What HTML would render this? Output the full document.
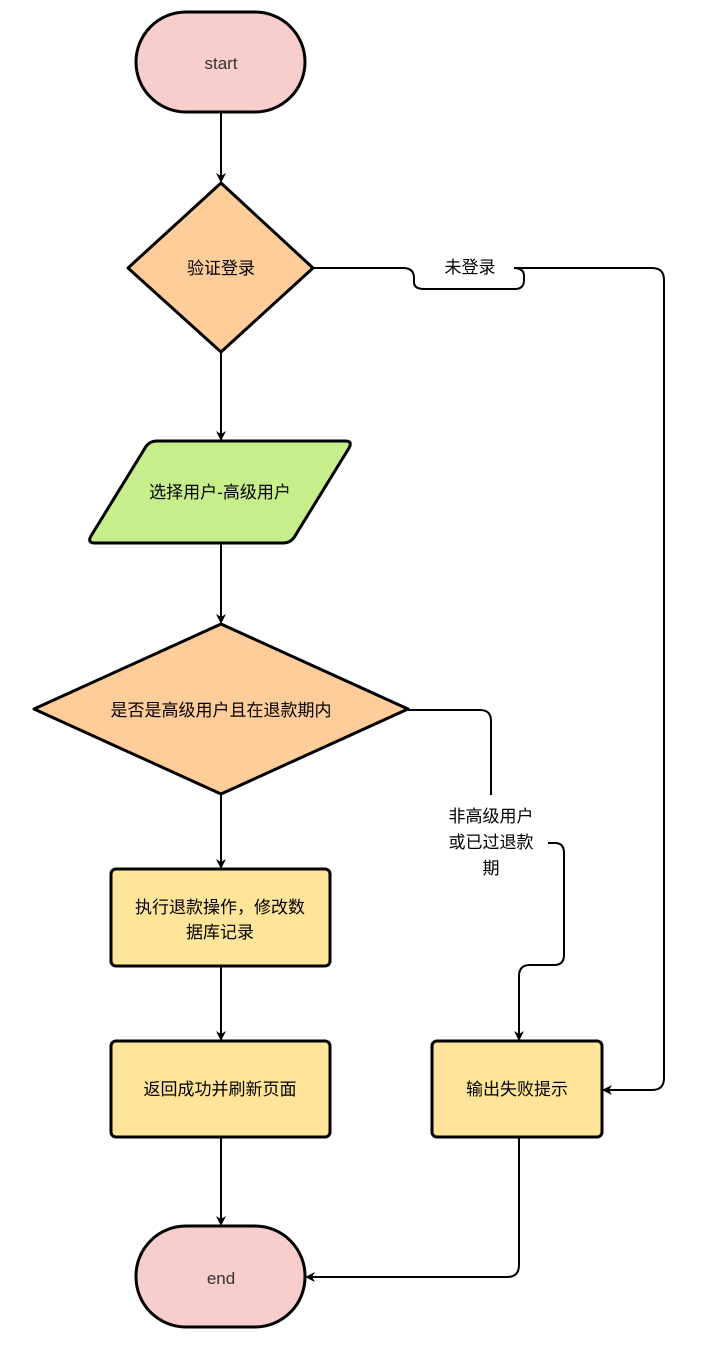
<!DOCTYPE html>
<html><head><meta charset="utf-8"><style>
html,body{margin:0;padding:0;background:#fff;}
text{font-family:"Liberation Sans","Noto Sans CJK SC",sans-serif;font-size:17px;fill:#000;}
</style></head><body>
<svg width="722" height="1358" viewBox="0 0 722 1358" xmlns="http://www.w3.org/2000/svg">
<defs><marker id="a" markerWidth="10" markerHeight="10" refX="8" refY="5" orient="auto" markerUnits="userSpaceOnUse"><path d="M0,0 L10,5 L0,10 L3,5 Z" fill="#000"/></marker></defs>
<g fill="none" stroke="#000" stroke-width="2">
<path d="M221 112 V181" marker-end="url(#a)"/>
<path d="M221 352 V439" marker-end="url(#a)"/>
<path d="M221 543 V622" marker-end="url(#a)"/>
<path d="M221 794 V867" marker-end="url(#a)"/>
<path d="M221 966 V1039" marker-end="url(#a)"/>
<path d="M221 1137 V1224" marker-end="url(#a)"/>
<path d="M313 268 H403 Q414 268 414 278 V282 Q414 289 424 289 H515 Q524 289 524 280 V276 Q524 268 514 268 H652 Q664 268 664 280 V1078 Q664 1090 652 1090 H604" marker-end="url(#a)"/>
<path d="M408 710 H480 Q491 710 491 721 V795"/>
<path d="M548 843 H555 Q564 843 564 853 V955 Q564 965 554 965 H530 Q519 965 519 976 V1039" marker-end="url(#a)"/>
<path d="M519 1137 V1265 Q519 1277 507 1277 H307" marker-end="url(#a)"/>
</g>
<rect x="434" y="255" width="72" height="26" fill="#fff"/>
<g stroke="#000" stroke-width="3">
<rect x="136" y="12" width="169" height="100" rx="50" fill="#f8cecc"/>
<polygon points="221,183 313,268 221,352 128,268" fill="#ffcd9a" stroke-linejoin="round"/>
<path d="M157 441 H345 Q353 441 349 448 L295 536 Q291 543 283 543 H95 Q87 543 91 536 L145 448 Q149 441 157 441 Z" fill="#c6ef8b"/>
<polygon points="221,624 408,709 221,794 34,709" fill="#ffcd9a" stroke-linejoin="round"/>
<rect x="111" y="869" width="219" height="97" rx="5" fill="#ffe599"/>
<rect x="111" y="1041" width="219" height="96" rx="5" fill="#ffe599"/>
<rect x="432" y="1041" width="170" height="96" rx="5" fill="#ffe599"/>
<rect x="136" y="1226" width="169" height="101" rx="50" fill="#f8cecc"/>
</g>
<g text-anchor="middle">
<text x="221" y="69" style="fill:#333">start</text>
<text x="221" y="274">验证登录</text>
<text x="470" y="273">未登录</text>
<text x="220" y="498">选择用户-高级用户</text>
<text x="221" y="716">是否是高级用户且在退款期内</text>
<text x="491" y="822">非高级用户</text>
<text x="491" y="848">或已过退款</text>
<text x="491" y="874">期</text>
<text x="220" y="913">执行退款操作，修改数</text>
<text x="220" y="938">据库记录</text>
<text x="220" y="1095">返回成功并刷新页面</text>
<text x="517" y="1095">输出失败提示</text>
<text x="221" y="1284" style="fill:#333">end</text>
</g>
</svg>
</body></html>
